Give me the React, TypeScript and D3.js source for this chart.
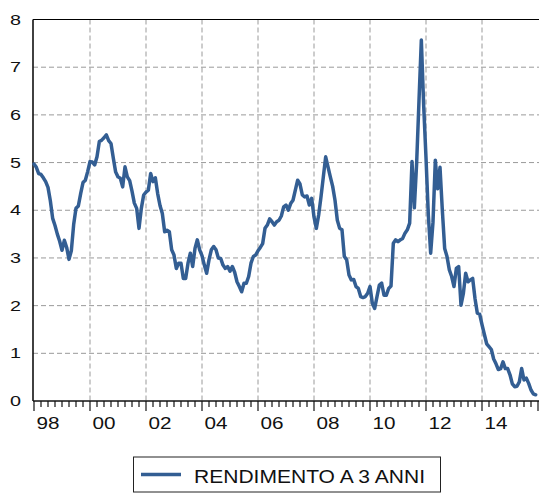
import React from "react";
import * as d3 from "d3";

const seriesName = "RENDIMENTO A 3 ANNI";
const startYear = 1998;
// Monthly values, Jan 1998 .. Dec 2015
const values: number[] = [
  4.97, 4.90, 4.77, 4.75, 4.68, 4.60, 4.48, 4.20, 3.83, 3.68, 3.50, 3.35,
  3.16, 3.37, 3.22, 2.97, 3.15, 3.70, 4.04, 4.09, 4.35, 4.58, 4.63, 4.81,
  5.02, 5.01, 4.95, 5.12, 5.44, 5.47, 5.52, 5.58, 5.46, 5.40, 5.09, 4.80,
  4.70, 4.67, 4.49, 4.91, 4.70, 4.62, 4.40, 4.15, 4.04, 3.62, 4.04, 4.32,
  4.38, 4.42, 4.77, 4.60, 4.68, 4.35, 4.10, 3.93, 3.55, 3.58, 3.55, 3.17,
  3.06, 2.78, 2.89, 2.89, 2.57, 2.57, 2.89, 3.10, 2.82, 3.20, 3.38, 3.17,
  3.05, 2.85, 2.68, 2.96, 3.17, 3.24, 3.17, 3.00, 2.99, 2.85, 2.78, 2.82,
  2.72, 2.82, 2.70, 2.50, 2.40, 2.29, 2.47, 2.47, 2.61, 2.89, 3.03, 3.06,
  3.15, 3.22, 3.30, 3.62, 3.69, 3.82, 3.76, 3.69, 3.76, 3.79, 3.88, 4.07,
  4.11, 4.00, 4.14, 4.21, 4.42, 4.63, 4.55, 4.32, 4.28, 4.30, 4.11, 4.25,
  3.86, 3.62, 3.90, 4.28, 4.70, 5.12, 4.91, 4.70, 4.50, 4.21, 3.79, 3.62,
  3.59, 3.03, 2.96, 2.64, 2.54, 2.55, 2.40, 2.36, 2.19, 2.17, 2.19, 2.26,
  2.40, 2.05, 1.94, 2.19, 2.43, 2.47, 2.22, 2.22, 2.36, 2.41, 3.31, 3.38,
  3.34, 3.38, 3.41, 3.52, 3.59, 3.73, 5.02, 4.05, 5.00, 6.30, 7.57, 6.20,
  5.10, 3.90, 3.10, 3.75, 5.05, 4.45, 4.90, 4.00, 3.20, 3.03, 2.75, 2.61,
  2.40, 2.78, 2.82, 2.01, 2.25, 2.68, 2.50, 2.54, 2.57, 2.15, 1.84, 1.82,
  1.60, 1.40, 1.20, 1.14, 1.08, 0.88, 0.78, 0.66, 0.68, 0.82, 0.68, 0.68,
  0.55, 0.36, 0.30, 0.31, 0.40, 0.68, 0.44, 0.48, 0.37, 0.23, 0.15, 0.13,
];
const yTicks: number[] = [0, 1, 2, 3, 4, 5, 6, 7, 8];
const xLabelYears: number[] = [1998, 2000, 2002, 2004, 2006, 2008, 2010, 2012, 2014];
const xLabels: string[] = ["98", "00", "02", "04", "06", "08", "10", "12", "14"];

const W = 539;
const H = 493;
const axisLeft = 33;
const plotRight = 539;
const plotTop = 19.5;
const plotBottom = 401;
const lineColor = "#335e93";

export default function App() {
  const x = d3.scaleLinear().domain([0, 216]).range([34, 538]);
  const y = d3.scaleLinear().domain([0, 8]).range([plotBottom, plotTop]);
  const monthOf = (yr: number) => (yr - startYear) * 12;

  const line = d3
    .line<number>()
    .x((_, i) => x(i))
    .y((d) => y(d))
    .curve(d3.curveLinear);

  const quarterTicks: number[] = d3.range(0, 217, 3);
  const gridYears = xLabelYears.filter((yr) => yr !== startYear);

  return (
    <svg
      width={W}
      height={H}
      style={{ position: "absolute", left: 0, top: 0, background: "#fff" }}
      fontFamily="Arial, 'Liberation Sans', sans-serif"
    >
      {/* horizontal grid */}
      {yTicks
        .filter((t) => t > 0 && t < 8)
        .map((t) => (
          <line
            key={"hg" + t}
            x1={axisLeft}
            x2={plotRight}
            y1={y(t)}
            y2={y(t)}
            stroke="#9a9a9a"
            strokeWidth={1}
            strokeDasharray="5,3"
          />
        ))}
      {/* vertical grid */}
      {gridYears.map((yr) => (
        <line
          key={"vg" + yr}
          x1={x(monthOf(yr))}
          x2={x(monthOf(yr))}
          y1={plotTop}
          y2={plotBottom}
          stroke="#9a9a9a"
          strokeWidth={1}
          strokeDasharray="5,3"
        />
      ))}
      {/* frame */}
      <line x1={axisLeft} x2={plotRight} y1={plotTop} y2={plotTop} stroke="#000" strokeWidth={1.2} />
      <line x1={axisLeft} x2={axisLeft} y1={plotTop} y2={plotBottom} stroke="#111" strokeWidth={1.6} />
      <line x1={axisLeft} x2={plotRight} y1={plotBottom} y2={plotBottom} stroke="#111" strokeWidth={1.6} />
      {/* x ticks */}
      {quarterTicks.map((m) => {
        const major = m % 24 === 0;
        return (
          <line
            key={"xt" + m}
            x1={x(m)}
            x2={x(m)}
            y1={plotBottom}
            y2={plotBottom + (major ? 10 : 6)}
            stroke="#111"
            strokeWidth={1.2}
          />
        );
      })}
      {/* y tick labels */}
      {yTicks.map((t) => (
        <text
          key={"yl" + t}
          x={10}
          y={y(t) + 5}
          fontSize={15.5}
          fill="#111"
          textLength={11}
          lengthAdjust="spacingAndGlyphs"
        >
          {String(t)}
        </text>
      ))}
      {/* x tick labels */}
      {xLabelYears.map((yr, i) => (
        <text
          key={"xl" + yr}
          x={x(monthOf(yr)) + 2.5}
          y={428.5}
          fontSize={16}
          fill="#111"
          textLength={23}
          lengthAdjust="spacingAndGlyphs"
        >
          {xLabels[i]}
        </text>
      ))}
      {/* series */}
      <path
        d={line(values) || ""}
        fill="none"
        stroke={lineColor}
        strokeWidth={3.5}
        strokeLinejoin="round"
        strokeLinecap="round"
      />
      {/* legend */}
      <rect x={133.5} y={457} width={307} height={35} fill="#fff" stroke="#222" strokeWidth={1} />
      <line x1={141} x2={181} y1={474.5} y2={474.5} stroke={lineColor} strokeWidth={3.5} />
      <text
        x={194}
        y={482.5}
        fontSize={18.5}
        fill="#111"
        textLength={231}
        lengthAdjust="spacingAndGlyphs"
      >
        {seriesName}
      </text>
    </svg>
  );
}
